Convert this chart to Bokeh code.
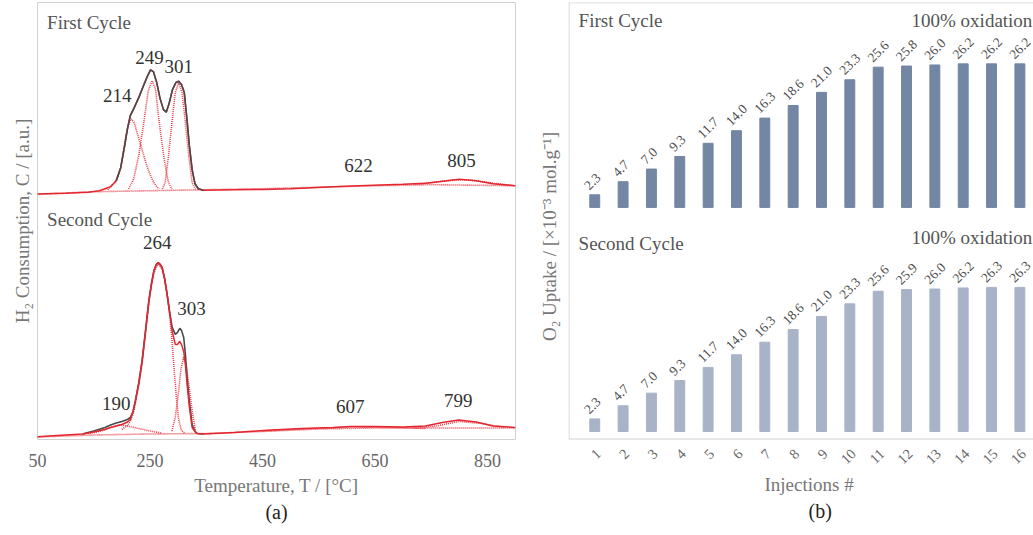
import math
from bokeh.plotting import figure
from bokeh.layouts import row
from bokeh.models import FixedTicker, Span, Title, Label
from bokeh.core.properties import value
from bokeh.embed import file_html
from bokeh.resources import INLINE

FONT = "Liberation Serif"

# ---------------- (a) H2-TPR profiles ----------------
# First cycle: fitted envelope (red) and measured signal (grey), in a.u.
c1_fit_T = [50, 100, 140, 160, 180, 190, 198, 205, 210, 215, 222, 230, 240, 246, 251, 256, 262, 268, 274, 279,
            284, 290, 296, 301, 306, 311, 316, 320, 325, 330, 336, 345, 400, 450, 500, 576, 622, 700, 740, 770,
            800, 830, 860, 900]
c1_fit_C = [1.7, 2.5, 3.5, 5, 9, 15, 28, 50, 67, 80, 88, 98, 112, 120, 125.7, 124, 113, 97, 86, 83.5,
            92, 106, 113, 114.3, 111, 103, 75, 50, 26, 12, 7, 5.5, 6, 6.3, 7, 9, 10, 11.5, 12.5, 14.5,
            16.5, 15, 12, 10]
c1_exp_T = [190, 198, 205, 210, 215, 222, 230, 240, 246, 251, 256, 262, 268, 274, 279, 284, 290, 296, 301, 306,
            311, 316, 320, 325, 330, 336, 345]
c1_exp_C = [15, 28, 50, 67, 80, 88, 98, 112, 120, 125.7, 124, 113, 97, 86, 83.5, 92, 106, 113, 114.3, 111,
            103, 75, 50, 26, 12, 7, 5.5]
# First cycle deconvoluted components
c1_p214_T = [175, 190, 198, 203, 208, 212, 216.5, 222, 227, 233, 239, 245, 251, 258, 266]
c1_p214_C = [6, 15, 28, 45, 62, 71, 76.7, 73, 63, 52, 40, 29, 20, 12, 6.7]
c1_p249_T = [212, 221, 230, 239, 247, 254, 260, 265, 270, 274.5, 279, 283, 289]
c1_p249_C = [6.7, 16.7, 40, 73, 105, 115, 106, 80, 58, 40, 24, 13, 6.7]
c1_p301_T = [272, 277, 283, 289, 295, 301, 307, 313, 319, 325, 331]
c1_p301_C = [6.7, 13, 40, 73, 103, 113, 103, 73, 40, 13, 6.7]
c1_p805_T = [720, 750, 780, 805, 830, 860, 890]
c1_p805_C = [11.5, 13, 15, 16, 15, 12.5, 10.5]
c1_base_T = [50, 150, 250, 350, 450, 550, 650, 750, 900]
c1_base_C = [1.5, 4, 5, 6, 7, 8.5, 10, 11, 10]

# Second cycle
c2_fit_T = [50, 100, 130, 150, 170, 180, 190, 200, 210, 215, 220, 224, 230, 236, 242, 248, 253, 257, 261, 264.5,
            268, 271.6, 276, 280.5, 285, 289.5, 295, 299, 303, 306, 310, 313, 316, 320, 325, 330, 334, 345, 400, 458,
            520, 576, 607, 650, 700, 740, 770, 799, 830, 860, 900]
c2_fit_C = [2.8, 4.5, 5.5, 7.5, 10, 12, 13.5, 15, 17.5, 20, 28, 38.5, 56, 78.5, 108, 138.5, 157, 168.5, 174.5, 176.8,
            175, 171.8, 161, 145, 127, 108, 95, 95, 98, 95, 88, 75, 55, 33, 12, 8, 6, 5.5, 7, 9.2,
            11, 12, 13, 13, 12.5, 13.5, 17, 19.5, 17.5, 13.5, 12]
c2_exp_T = [130, 150, 170, 180, 190, 200, 210, 215, 220, 224, 230, 236, 242, 248, 253, 257, 261, 264.5, 268, 271.6,
            276, 280.5, 285, 289.5, 295, 299, 303, 306, 310, 313, 316, 320, 325, 330, 334, 345]
c2_exp_C = [5.5, 8.5, 12, 14.5, 16.5, 18, 20, 22, 28, 38.5, 56, 78.5, 108, 138.5, 157, 168.5, 174.5, 176.8, 175, 171.8,
            161, 145, 127, 112, 105, 107, 111, 109, 102, 85, 62, 38, 15, 8, 6, 5.5]
c2_p190_T = [140, 160, 180, 195, 210, 230, 250, 270]
c2_p190_C = [6, 8, 12, 14.5, 13.5, 11, 8.5, 6.5]
c2_p264_T = [200, 210, 215, 220, 224, 230, 236, 242, 248, 253, 257, 261, 264.5, 268, 271.6, 276, 280.5, 285, 289, 293,
             297, 301, 306, 312]
c2_p264_C = [10, 14, 18, 26, 36, 54, 76, 106, 136, 155, 166, 172, 175, 173, 170, 160, 145, 125, 100, 70,
             42, 20, 9, 6]
c2_p303_T = [289, 295, 301, 305, 310, 315, 319, 325, 331]
c2_p303_C = [8.5, 22, 48.5, 70, 82.5, 72, 55, 28.5, 8.5]
c2_p607_T = [450, 520, 607, 680, 740]
c2_p607_C = [8.5, 10.5, 12.5, 12, 11]
c2_p799_T = [720, 760, 799, 840, 880]
c2_p799_C = [11.5, 13.5, 18, 16, 12]
c2_base_T = [50, 150, 250, 350, 450, 550, 650, 750, 900]
c2_base_C = [2.5, 4.5, 5.5, 6, 8, 10.5, 11.5, 11.5, 11.5]

# peak annotations
c1_peaks = ["214", "249", "301", "622", "805"]
c2_peaks = ["190", "264", "303", "607", "799"]
temp_ticks = [50, 250, 450, 650, 850]

# ---------------- (b) O2 uptake ----------------
injections = list(range(1, 17))
injection_labels = [str(i) for i in injections]
uptake_first = [2.3, 4.7, 7.0, 9.3, 11.7, 14.0, 16.3, 18.6, 21.0, 23.3, 25.6, 25.8, 26.0, 26.2, 26.2, 26.2]
uptake_second = [2.3, 4.7, 7.0, 9.3, 11.7, 14.0, 16.3, 18.6, 21.0, 23.3, 25.6, 25.9, 26.0, 26.2, 26.3, 26.3]

# ---------------- layout / style constants ----------------
OFF1 = 243.5          # vertical offset of first-cycle trace
OFF_B = 40.9          # vertical offset of first-cycle bars
YB0, YB1 = -1.37, 78.3   # visible box of panel (b)
YB_LOW = -7.12           # frame extends below the box to hold the rotated tick labels
XB0, XB1 = 0.074, 16.48
c1_lab_x = [192, 249, 301, 621, 804]
c1_lab_y = [100, 138, 129, 30, 35.5]
c2_lab_x = [190, 263, 324, 606, 798]
c2_lab_y = [36, 197, 131, 33, 39]

GREY = "#4a4a4a"
RED = "#e3262f"
DOT = "#e8404a"
BORDER = "#d2d2d2"

def sh(vals, off):
    return [v + off for v in vals]

# ---------- figure (a) ----------
pa = figure(width=535, height=535, x_range=(50, 900), y_range=(0, 436.5),
            output_backend="svg", toolbar_location=None,
            min_border_left=37, min_border_right=20, min_border_top=2, min_border_bottom=96)
pa.background_fill_color = "white"
pa.outline_line_color = BORDER
pa.grid.visible = False

for T, C, off in [(c1_base_T, c1_base_C, OFF1), (c1_p214_T, c1_p214_C, OFF1), (c1_p249_T, c1_p249_C, OFF1),
                  (c1_p301_T, c1_p301_C, OFF1), (c1_p805_T, c1_p805_C, OFF1),
                  (c2_base_T, c2_base_C, 0), (c2_p190_T, c2_p190_C, 0), (c2_p264_T, c2_p264_C, 0),
                  (c2_p303_T, c2_p303_C, 0), (c2_p607_T, c2_p607_C, 0), (c2_p799_T, c2_p799_C, 0)]:
    pa.line(T, sh(C, off), line_color=DOT, line_width=1.6, line_dash="1 1")

pa.line(c1_fit_T, sh(c1_fit_C, OFF1), line_color=RED, line_width=1.5)
pa.line(c1_exp_T, sh(c1_exp_C, OFF1), line_color=GREY, line_width=1.6)
pa.line(c2_exp_T, c2_exp_C, line_color=GREY, line_width=1.6)
pa.line(c2_fit_T, c2_fit_C, line_color=RED, line_width=1.5)

pa.text(x=c1_lab_x, y=sh(c1_lab_y, OFF1), text=c1_peaks, text_align="center", text_baseline="middle",
        text_font=value(FONT), text_font_size="19px", text_color="#333333")
pa.text(x=c2_lab_x, y=c2_lab_y, text=c2_peaks, text_align="center", text_baseline="middle",
        text_font=value(FONT), text_font_size="19px", text_color="#333333")

pa.add_layout(Label(x=67, y=416.5, text="First Cycle", text_baseline="middle", text_font=FONT,
                    text_font_size="19px", text_color="#555555"))
pa.add_layout(Label(x=67, y=219.5, text="Second Cycle", text_baseline="middle", text_font=FONT,
                    text_font_size="19px", text_color="#555555"))

pa.xaxis.ticker = FixedTicker(ticks=temp_ticks)
pa.xaxis.axis_line_color = None
pa.xaxis.major_tick_line_color = None
pa.xaxis.minor_tick_line_color = None
pa.xaxis.major_label_text_font = FONT
pa.xaxis.major_label_text_font_size = "18px"
pa.xaxis.major_label_text_color = "#666666"
pa.xaxis.major_label_standoff = 8
pa.xaxis.axis_label = "Temperature, T / [°C]"
pa.xaxis.axis_label_text_font = FONT
pa.xaxis.axis_label_text_font_size = "19px"
pa.xaxis.axis_label_text_font_style = "normal"
pa.xaxis.axis_label_text_color = "#777777"
pa.xaxis.axis_label_standoff = 5

pa.yaxis.ticker = FixedTicker(ticks=[])
pa.yaxis.axis_line_color = None
pa.yaxis.major_tick_line_color = None
pa.yaxis.minor_tick_line_color = None
pa.yaxis.axis_label = "H₂ Consumption, C / [a.u.]"
pa.yaxis.axis_label_text_font = FONT
pa.yaxis.axis_label_text_font_size = "19px"
pa.yaxis.axis_label_text_font_style = "normal"
pa.yaxis.axis_label_text_color = "#777777"
pa.yaxis.axis_label_standoff = 5

pa.add_layout(Title(text="(a)", align="center", standoff=1, text_font=FONT, text_font_size="20px",
                    text_font_style="normal", text_color="#222222"), "below")

# ---------- figure (b) ----------
pb = figure(width=498, height=535, x_range=(XB0, XB1), y_range=(YB_LOW, YB1),
            output_backend="svg", toolbar_location=None,
            min_border_left=32, min_border_right=0, min_border_top=2, min_border_bottom=65)
pb.background_fill_color = "white"
pb.outline_line_color = None
pb.grid.visible = False

# box borders (left, bottom, top); right side runs past the page edge
pb.segment(x0=[XB0 + 0.02], y0=[YB0], x1=[XB0 + 0.02], y1=[YB1], line_color=BORDER, line_width=1)
pb.add_layout(Span(location=YB0, dimension="width", line_color=BORDER, line_width=1))
pb.add_layout(Span(location=YB1 - 0.05, dimension="width", line_color=BORDER, line_width=1))

pb.vbar(x=injections, width=0.35, bottom=OFF_B, top=sh(uptake_first, OFF_B), color="#7386a3")
pb.vbar(x=injections, width=0.35, bottom=0, top=uptake_second, color="#a8b3c8")

pb.text(x=injections, y=sh(uptake_first, OFF_B), text=[f"{v:.1f}" for v in uptake_first],
        angle=math.pi / 4, text_align="left", text_baseline="middle", x_offset=-8, y_offset=-7,
        text_font=value(FONT), text_font_size="13.5px", text_color="#4d4d4d")
pb.text(x=injections, y=uptake_second, text=[f"{v:.1f}" for v in uptake_second],
        angle=math.pi / 4, text_align="left", text_baseline="middle", x_offset=-8, y_offset=-7,
        text_font=value(FONT), text_font_size="13.5px", text_color="#4d4d4d")

# rotated injection numbers under the box
pb.text(x=injections, y=[YB0 - 1.6] * len(injections), text=injection_labels, angle=math.pi / 4,
        text_align="right", text_baseline="top", text_font=value(FONT),
        text_font_size="14.5px", text_color="#666666")

pb.add_layout(Label(x=0.43, y=75.1, text="First Cycle", text_baseline="middle", text_font=FONT,
                    text_font_size="19px", text_color="#555555"))
pb.add_layout(Label(x=0.43, y=34.3, text="Second Cycle", text_baseline="middle", text_font=FONT,
                    text_font_size="19px", text_color="#555555"))
pb.add_layout(Label(x=16.44, y=75.1, text="100% oxidation", text_align="right", text_baseline="middle",
                    text_font=FONT, text_font_size="19px", text_color="#555555"))
pb.add_layout(Label(x=16.44, y=35.4, text="100% oxidation", text_align="right", text_baseline="middle",
                    text_font=FONT, text_font_size="19px", text_color="#555555"))

pb.xaxis.visible = False

pb.yaxis.ticker = FixedTicker(ticks=[])
pb.yaxis.axis_line_color = None
pb.yaxis.major_tick_line_color = None
pb.yaxis.minor_tick_line_color = None
pb.yaxis.axis_label = "O₂ Uptake / [×10⁻³ mol.g⁻¹]"
pb.yaxis.axis_label_text_font = FONT
pb.yaxis.axis_label_text_font_size = "19px"
pb.yaxis.axis_label_text_font_style = "normal"
pb.yaxis.axis_label_text_color = "#777777"
pb.yaxis.axis_label_standoff = 9

pb.add_layout(Title(text="Injections #", align="left", offset=196, standoff=3, text_font=FONT,
                    text_font_size="19px", text_font_style="normal", text_color="#777777"), "below")
pb.add_layout(Title(text="(b)", align="left", offset=240, standoff=3, text_font=FONT, text_font_size="20px",
                    text_font_style="normal", text_color="#222222"), "below")

# the two panels have different frame heights: do not align their frames
for fig in (pa, pb):
    if "frame_align" in fig.properties():
        fig.frame_align = False

layout = row(pa, pb)
open("out.html", "w").write(file_html(layout, INLINE))
